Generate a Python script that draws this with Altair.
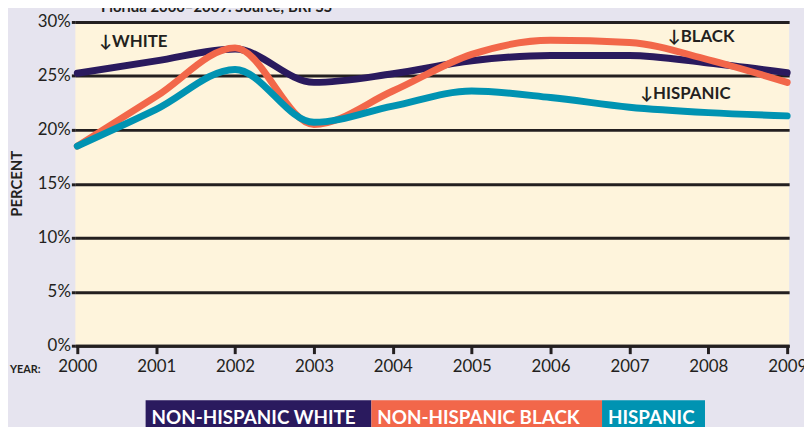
import altair as alt
import pandas as pd

years = [2000, 2001, 2002, 2003, 2004, 2005, 2006, 2007, 2008, 2009]
white = [25.25, 26.4, 27.5, 24.4, 25.2, 26.4, 26.9, 26.9, 26.2, 25.3]
black = [18.5, 23.1, 27.6, 20.5, 23.6, 27.0, 28.3, 28.1, 26.5, 24.4]
hispanic = [18.5, 21.9, 25.6, 20.7, 22.2, 23.6, 23.0, 22.1, 21.6, 21.3]

series_names = ["NON-HISPANIC WHITE", "NON-HISPANIC BLACK", "HISPANIC"]
series_colors = ["#2A1A5E", "#F2674A", "#0093B2"]

ann_text = ["↓WHITE", "↓BLACK", "↓HISPANIC"]
ann_x = [2000.28, 2007.49, 2007.14]
ann_y = [28.1, 28.6, 23.3]

title_text = "Florida 2000–2009. Source; BRFSS"

INK = "#231F20"
FONT = "Lato"

x_scale = alt.Scale(domain=[1999.975, 2009.025], nice=False, zero=False)
y_scale = alt.Scale(domain=[0, 30], nice=False)

x_axis = alt.Axis(values=years, format="d", title=None, domainColor=INK, domainWidth=3,
                  tickColor=INK, tickWidth=3, tickSize=8, labelFontSize=17, labelFont=FONT,
                  labelColor=INK, labelPadding=5, grid=False, labelFlush=False)
y_axis = alt.Axis(values=[0, 5, 10, 15, 20, 25, 30], format="d", labelExpr="datum.value + '%'",
                  title="PERCENT", titleFont=FONT, titleFontSize=15, titleFontWeight="bold",
                  titleColor=INK, titleX=-59, titleY=163, titleAngle=-90, titleAlign="center",
                  titleBaseline="middle", domain=False, tickColor=INK, tickWidth=3, tickSize=4,
                  labelFontSize=17, labelFont=FONT, labelColor=INK, labelPadding=1,
                  grid=True, gridColor=INK, gridWidth=3, gridOpacity=1)

df = pd.DataFrame({"year": years, "white": white, "black": black, "hispanic": hispanic})

def line(field, color):
    return alt.Chart(df).mark_line(strokeWidth=7, color=color, interpolate="monotone",
                                   strokeCap="round").encode(
        x=alt.X("year:Q", scale=x_scale, axis=x_axis),
        y=alt.Y(f"{field}:Q", scale=y_scale, axis=y_axis),
    )

lines = [line("white", series_colors[0]), line("black", series_colors[1]),
         line("hispanic", series_colors[2])]

ann_df = pd.DataFrame({"t": ann_text, "x": ann_x, "y": ann_y})
ann = alt.Chart(ann_df).mark_text(align="left", baseline="middle", font=FONT, fontSize=17,
                                  fontWeight="bold", color=INK).encode(
    x=alt.X("x:Q", scale=x_scale, axis=x_axis), y=alt.Y("y:Q", scale=y_scale, axis=y_axis),
    text="t:N")

title = alt.Chart(pd.DataFrame({"t": [title_text]})).mark_text(
    align="left", baseline="alphabetic", font=FONT, fontSize=15, fontWeight="bold", color=INK
).encode(x=alt.value(26), y=alt.value(-10), text="t:N")

year_lbl = alt.Chart(pd.DataFrame({"t": ["YEAR:"]})).mark_text(
    align="left", baseline="middle", font=FONT, fontSize=11, fontWeight="bold", color=INK
).encode(x=alt.value(-66), y=alt.value(352), text="t:N")

box_x = [71, 299, 532]
box_x2 = [299, 532, 636]
legend_layers = []
for name, col, a, b in zip(series_names, series_colors, box_x, box_x2):
    d = pd.DataFrame({"t": [name]})
    legend_layers.append(alt.Chart(d).mark_rect(color=col).encode(
        x=alt.value(a), x2=alt.value(b), y=alt.value(382), y2=alt.value(412)))
    legend_layers.append(alt.Chart(d).mark_text(
        align="left", baseline="alphabetic", font=FONT, fontSize=19, fontWeight="bold",
        color="white").encode(x=alt.value(a + 6), y=alt.value(406), text="t:N"))

chart = alt.layer(*lines, ann, title, year_lbl, *legend_layers).resolve_axis(
    x="shared", y="shared").properties(
    width=721, height=327, autosize="none",
    padding={"left": 68, "top": 12, "right": 15, "bottom": 80},
    background="#E6E4EF",
).configure_view(fill="#FEF4DC", stroke=None)

chart.save("out.html", embed_options={"renderer": "svg", "actions": False})
